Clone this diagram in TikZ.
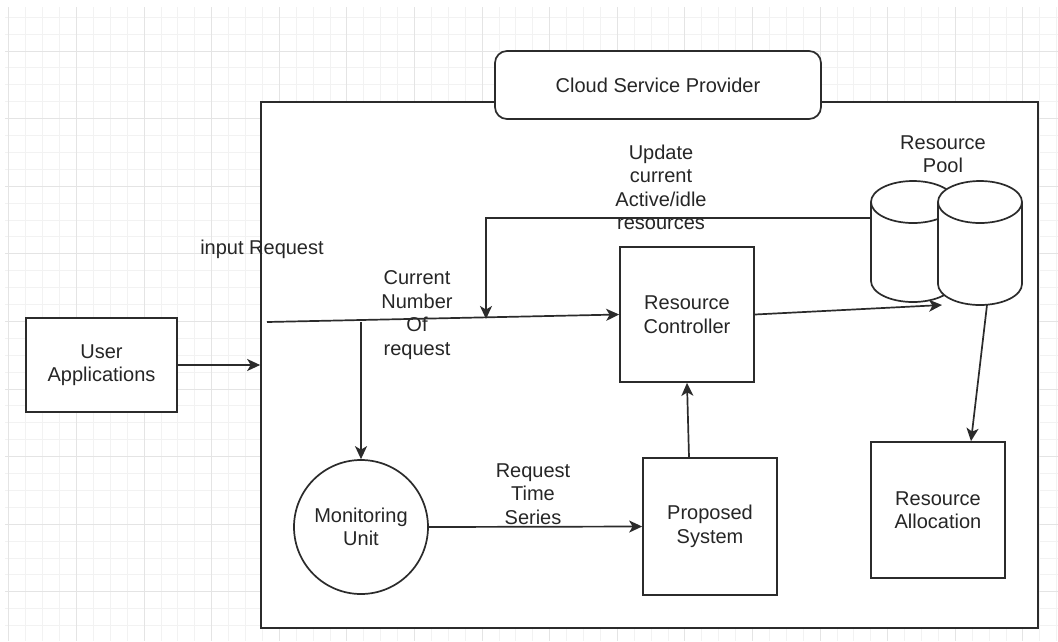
\documentclass[tikz,border=0pt]{standalone}
\usepackage{fontspec}
\setmainfont{Liberation Sans}
\usetikzlibrary{arrows.meta}
\definecolor{ink}{HTML}{2B2B2B}
\definecolor{txt}{HTML}{262626}
\definecolor{gminor}{HTML}{F2F2F2}
\definecolor{gmajor}{HTML}{E4E4E4}
\newcommand{\drawcyl}[1]{%
  \draw[ink, line width=1.7pt, fill=white]
    ([yshift=-21pt]#1.north west) -- ([yshift=21pt]#1.south west)
    arc[start angle=180,end angle=360,x radius=42pt,y radius=21pt]
    -- ([yshift=-21pt]#1.north east)
    arc[start angle=0,end angle=180,x radius=42pt,y radius=21pt] -- cycle;
  \draw[ink, line width=1.7pt]
    ([yshift=-21pt]#1.north west)
    arc[start angle=180,end angle=360,x radius=42pt,y radius=21pt];}
\begin{document}
\begin{tikzpicture}[x=1pt,y=-1pt,
  every node/.style={font=\fontsize{20}{23.5}\selectfont, text=txt, align=center, inner sep=0pt},
  box/.style={draw=ink, line width=1.7pt, fill=white},
  holder/.style={outer sep=0pt, inner sep=0pt},
  conn/.style={draw=ink, line width=1.7pt, -{Stealth[length=13pt,width=12pt,inset=3.5pt]}}]
\useasboundingbox[fill=white] (0,0) rectangle (1058,641);
% grid
\foreach \i in {0,...,62} {
  \pgfmathsetmacro{\xx}{8.9+16.9*\i}
  \draw[gminor, line width=1pt] (\xx,7) -- (\xx,641);
}
\foreach \j in {0,...,37} {
  \pgfmathsetmacro{\yy}{17.2+16.9*\j}
  \draw[gminor, line width=1pt] (5,\yy) -- (1058,\yy);
}
\foreach \i in {0,...,15} {
  \pgfmathsetmacro{\xx}{8.9+67.6*\i}
  \draw[gmajor, line width=1pt] (\xx,7) -- (\xx,641);
}
\foreach \j in {0,...,9} {
  \pgfmathsetmacro{\yy}{51+67.6*\j}
  \draw[gmajor, line width=1pt] (5,\yy) -- (1058,\yy);
}
% container
\node[box, minimum width=777pt, minimum height=526pt] (frame) at (649.5,365) {};
\node[box, rounded corners=12pt, minimum width=326pt, minimum height=68pt] (csp) at (658,85) {Cloud Service Provider};
% labels
\node (lblin) at (262,249) {input Request};
\node (lblcur) at (417,315) {Current\\Number\\Of\\request};
\node (lblupd) at (661,187.5) {Update\\current\\Active/idle\\resources};
\node (lblts) at (533,494) {Request\\Time\\Series};
\node (lblpool) at (943,154) {Resource\\Pool};
% boxes
\node[box, minimum width=151pt, minimum height=94pt] (user) at (101.5,365) {User\\Applications};
\node[box, minimum width=134pt, minimum height=135pt] (rc) at (687,314.5) {Resource\\Controller};
\node[box, minimum width=134pt, minimum height=137pt] (ps) at (710,526.5) {Proposed\\System};
\node[box, minimum width=134pt, minimum height=136pt] (ra) at (938,510) {Resource\\Allocation};
\node[box, circle, minimum size=134pt] (mu) at (361,527) {Monitoring\\Unit};
% cylinders
\node[holder, minimum width=84pt, minimum height=121pt] (cylA) at (913,241.5) {};
\node[holder, minimum width=84pt, minimum height=124pt] (cylB) at (980,243) {};
\drawcyl{cylA}
\drawcyl{cylB}
% connector end points
\coordinate (inS) at (267,322);
\coordinate (mon) at (361,322);
\coordinate (upd) at (486,319);
% connectors
\draw[conn] (user.east) -- (frame.west);
\draw[conn] (inS) -- (rc.west);
\draw[conn] ([yshift=23.5pt]cylA.west) -| (upd);
\draw[conn] (mon) -- (mu.north);
\draw[conn] (mu.east) -- (ps.west);
\draw[conn] ([xshift=-21pt]ps.north) -- (rc.south);
\draw[conn] (rc.east) -- ([xshift=4pt]cylB.south west);
\draw[conn] ([xshift=7pt]cylB.south) -- ([xshift=33pt]ra.north);
\end{tikzpicture}
\end{document}
